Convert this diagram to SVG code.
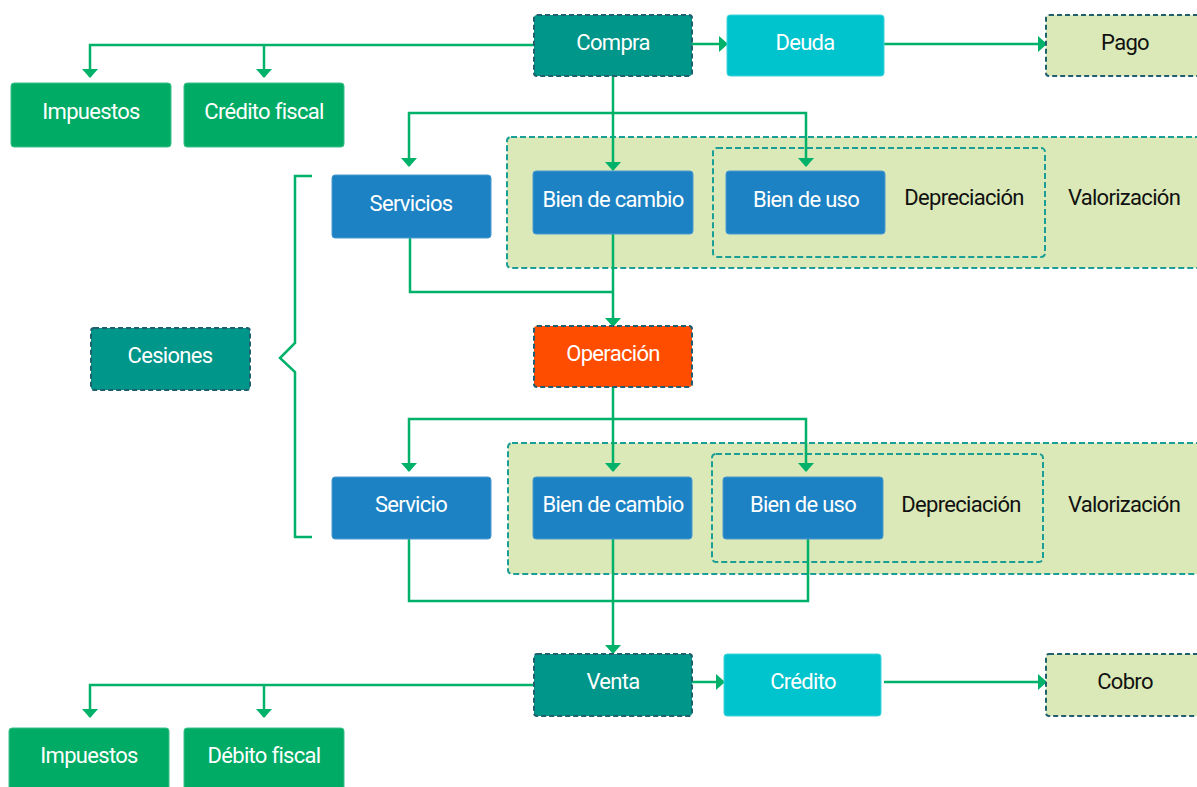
<svg xmlns="http://www.w3.org/2000/svg" width="1197" height="787" viewBox="0 0 1197 787">
<style>
text{font-family:Roboto,"Liberation Sans",sans-serif;font-size:22px;text-anchor:middle;letter-spacing:-0.7px}
.w{fill:#ffffff}
.k{fill:#111111}
.green{fill:#00AC65;stroke:#3cc08a;stroke-width:1}
.blue{fill:#1C82C3;stroke:#4a9ad0;stroke-width:1}
.cyan{fill:#00C4CD;stroke:#40d3da;stroke-width:1}
.teal{fill:#00968A;stroke:#1F5F6E;stroke-width:2;stroke-dasharray:5 3}
.orange{fill:#FF4D00;stroke:#1F5F6E;stroke-width:2;stroke-dasharray:5 3}
.pale{fill:#DAE9B7;stroke:#1F5F6E;stroke-width:2;stroke-dasharray:5 3}
.region{fill:#DAE9B7;stroke:#1A9E96;stroke-width:2;stroke-dasharray:6 3}
.inner{fill:none;stroke:#1A9E96;stroke-width:2;stroke-dasharray:6 3}
.c{fill:none;stroke:#00B16A;stroke-width:2.5}
.a{marker-end:url(#ah)}
</style>
<defs>
<marker id="ah" markerUnits="userSpaceOnUse" markerWidth="16" markerHeight="16" viewBox="0 0 16 16" refX="15" refY="8" orient="auto">
<path d="M7,0 L16,8 L7,16 Z" fill="#00B16A"/>
</marker>
</defs>
<g id="regions">
<rect class="region" x="507" y="137" width="700" height="131" rx="4"/>
<rect class="inner" x="713" y="148" width="332" height="109" rx="4"/>
<rect class="region" x="508" y="443" width="700" height="131" rx="4"/>
<rect class="inner" x="712" y="454" width="331" height="108" rx="4"/>
</g>
<g id="connectors">
<path class="c a" d="M534,45 H90 V77"/>
<path class="c a" d="M264,45 V77"/>
<path class="c a" d="M692,44 H727"/>
<path class="c a" d="M884,44 H1046"/>
<path class="c a" d="M613,76 V170"/>
<path class="c a" d="M613,113 H409 V166"/>
<path class="c a" d="M613,113 H806 V166"/>
<path class="c" d="M410,238 V292 H613"/>
<path class="c a" d="M613,234 V326"/>
<path class="c a" d="M613,387 V471"/>
<path class="c a" d="M613,419 H409 V471"/>
<path class="c a" d="M613,419 H806 V471"/>
<path class="c" d="M409,539 V601 H808 V539"/>
<path class="c a" d="M613,539 V653"/>
<path class="c a" d="M534,685 H90 V717"/>
<path class="c a" d="M264,685 V717"/>
<path class="c a" d="M692,682 H724"/>
<path class="c a" d="M884,682 H1046"/>
<path class="c" d="M312,176 H295 V343 L280,358 L295,372 V537 H312"/>
</g>
<g id="compra"><rect class="teal" x="534" y="15" width="158" height="61" rx="3"/><text class="w" x="613" y="50">Compra</text></g>
<g id="deuda"><rect class="cyan" x="727" y="15" width="157" height="61" rx="3"/><text class="w" x="805" y="50">Deuda</text></g>
<g id="pago"><rect class="pale" x="1046" y="15" width="158" height="61" rx="3"/><text class="k" x="1125" y="50">Pago</text></g>
<g id="impuestos1"><rect class="green" x="11" y="83" width="160" height="64" rx="3"/><text class="w" x="91" y="119">Impuestos</text></g>
<g id="credito-fiscal"><rect class="green" x="184" y="83" width="160" height="64" rx="3"/><text class="w" x="264" y="119">Crédito fiscal</text></g>
<g id="servicios"><rect class="blue" x="332" y="175" width="159" height="63" rx="3"/><text class="w" x="411" y="211">Servicios</text></g>
<g id="bien-cambio1"><rect class="blue" x="533" y="171" width="160" height="63" rx="3"/><text class="w" x="613" y="207">Bien de cambio</text></g>
<g id="bien-uso1"><rect class="blue" x="726" y="171" width="159" height="63" rx="3"/><text class="w" x="806" y="207">Bien de uso</text></g>
<g id="depreciacion1"><text class="k" x="964" y="205">Depreciación</text></g>
<g id="valorizacion1"><text class="k" x="1124" y="205">Valorización</text></g>
<g id="cesiones"><rect class="teal" x="91" y="328" width="159" height="62" rx="3"/><text class="w" x="170" y="363">Cesiones</text></g>
<g id="operacion"><rect class="orange" x="534" y="326" width="158" height="61" rx="3"/><text class="w" x="613" y="361">Operación</text></g>
<g id="servicio"><rect class="blue" x="332" y="477" width="159" height="62" rx="3"/><text class="w" x="411" y="512">Servicio</text></g>
<g id="bien-cambio2"><rect class="blue" x="533" y="477" width="159" height="62" rx="3"/><text class="w" x="613" y="512">Bien de cambio</text></g>
<g id="bien-uso2"><rect class="blue" x="723" y="477" width="160" height="62" rx="3"/><text class="w" x="803" y="512">Bien de uso</text></g>
<g id="depreciacion2"><text class="k" x="961" y="512">Depreciación</text></g>
<g id="valorizacion2"><text class="k" x="1124" y="512">Valorización</text></g>
<g id="venta"><rect class="teal" x="534" y="654" width="158" height="62" rx="3"/><text class="w" x="613" y="689">Venta</text></g>
<g id="credito"><rect class="cyan" x="724" y="654" width="157" height="62" rx="3"/><text class="w" x="803" y="689">Crédito</text></g>
<g id="cobro"><rect class="pale" x="1046" y="654" width="158" height="62" rx="3"/><text class="k" x="1125" y="689">Cobro</text></g>
<g id="impuestos2"><rect class="green" x="9" y="728" width="160" height="64" rx="3"/><text class="w" x="89" y="763">Impuestos</text></g>
<g id="debito-fiscal"><rect class="green" x="184" y="728" width="160" height="64" rx="3"/><text class="w" x="264" y="763">Débito fiscal</text></g>
</svg>
